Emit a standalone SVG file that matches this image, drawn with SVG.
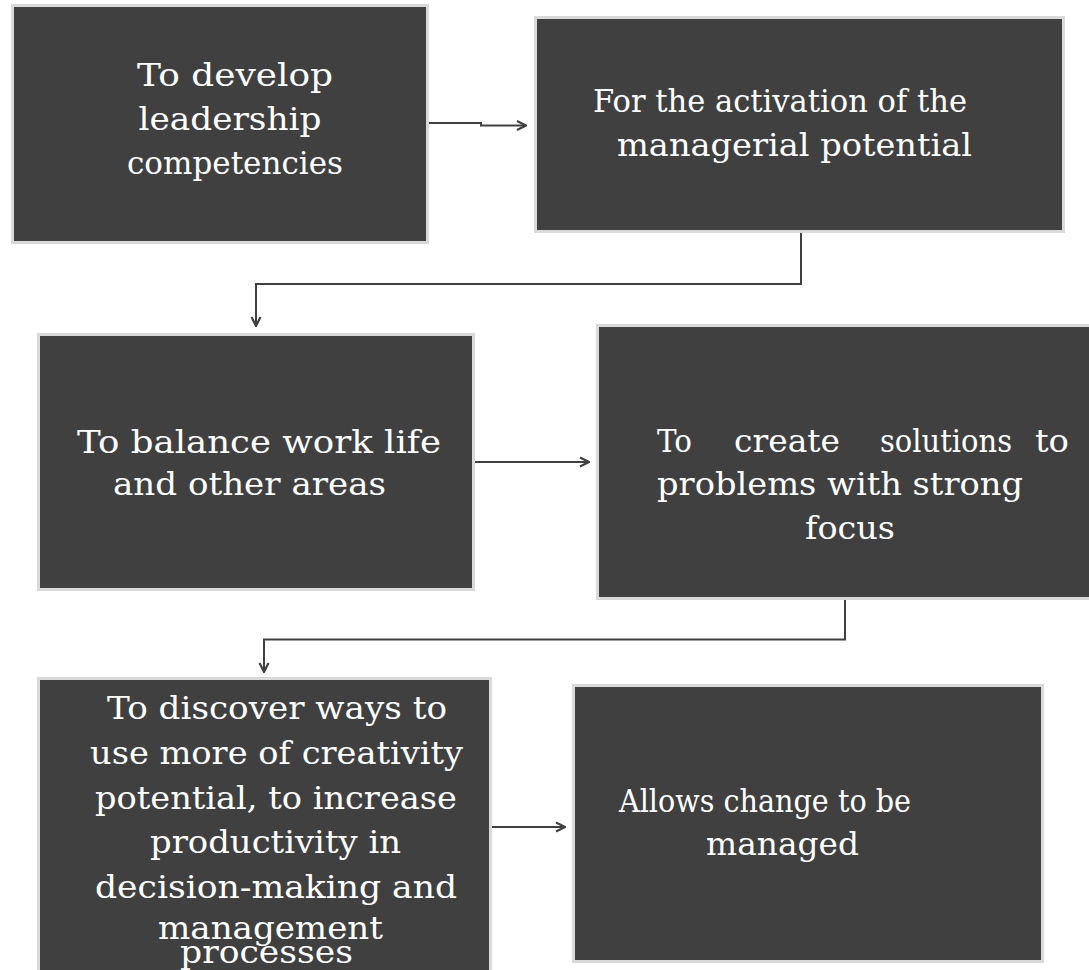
<svg xmlns="http://www.w3.org/2000/svg" width="1089" height="970" viewBox="0 0 1089 970">
<defs>
<style>
.box{fill:#404040;stroke:#d9d9d9;stroke-width:3}
.t{font-family:"DejaVu Serif","Liberation Serif",serif;font-size:31px;fill:#ffffff;text-anchor:middle}
.tl{font-family:"DejaVu Serif","Liberation Serif",serif;font-size:31px;fill:#ffffff}
.c{fill:none;stroke:#404040;stroke-width:2}
</style>
<marker id="arr" viewBox="0 0 12 12" refX="11" refY="6" markerWidth="12" markerHeight="12" markerUnits="userSpaceOnUse" orient="auto">
<path d="M2,1.5 L11,6 L2,10.5" fill="none" stroke="#404040" stroke-width="2.2"/>
</marker>
</defs>
<rect width="1089" height="970" fill="#ffffff"/>
<g id="connectors">
<path class="c" d="M429,123 H481 V125.5 H526" marker-end="url(#arr)"/>
<path class="c" d="M801,233 V284 H256 V326" marker-end="url(#arr)"/>
<path class="c" d="M475,462 H589" marker-end="url(#arr)"/>
<path class="c" d="M845,599 V639.5 H264 V672" marker-end="url(#arr)"/>
<path class="c" d="M492,827 H565" marker-end="url(#arr)"/>
</g>
<g id="n1">
<rect class="box" x="12.5" y="5.5" width="415" height="237"/>
<text class="t" x="235" y="86" textLength="196" lengthAdjust="spacingAndGlyphs">To develop</text>
<text class="t" x="230" y="130" textLength="183" lengthAdjust="spacingAndGlyphs">leadership</text>
<text class="t" x="235" y="174" textLength="216" lengthAdjust="spacingAndGlyphs">competencies</text>
</g>
<g id="n2">
<rect class="box" x="535.5" y="17.5" width="528" height="214"/>
<text class="t" x="780" y="112" textLength="374" lengthAdjust="spacingAndGlyphs">For the activation of the</text>
<text class="t" x="794.5" y="156" textLength="355" lengthAdjust="spacingAndGlyphs">managerial potential</text>
</g>
<g id="n3">
<rect class="box" x="38.5" y="334.5" width="435" height="255"/>
<text class="t" x="259" y="453" textLength="364" lengthAdjust="spacingAndGlyphs">To balance work life</text>
<text class="t" x="249.5" y="495" textLength="273" lengthAdjust="spacingAndGlyphs">and other areas</text>
</g>
<g id="n4">
<rect class="box" x="597.5" y="325.5" width="495" height="273"/>
<text class="tl" x="657" y="452" textLength="35" lengthAdjust="spacingAndGlyphs">To</text>
<text class="tl" x="734" y="452" textLength="106" lengthAdjust="spacingAndGlyphs">create</text>
<text class="tl" x="880" y="452" textLength="132" lengthAdjust="spacingAndGlyphs">solutions</text>
<text class="tl" x="1035" y="452" textLength="34" lengthAdjust="spacingAndGlyphs">to</text>
<text class="tl" x="657" y="495" textLength="366" lengthAdjust="spacingAndGlyphs">problems with strong</text>
<text class="t" x="850" y="539" textLength="90" lengthAdjust="spacingAndGlyphs">focus</text>
</g>
<g id="n5">
<rect class="box" x="38.5" y="678.5" width="452" height="300"/>
<text class="t" x="277" y="719" textLength="340" lengthAdjust="spacingAndGlyphs">To discover ways to</text>
<text class="t" x="276.5" y="764" textLength="373" lengthAdjust="spacingAndGlyphs">use more of creativity</text>
<text class="t" x="276" y="809" textLength="362" lengthAdjust="spacingAndGlyphs">potential, to increase</text>
<text class="t" x="275.5" y="853" textLength="251" lengthAdjust="spacingAndGlyphs">productivity in</text>
<text class="t" x="276" y="898" textLength="362" lengthAdjust="spacingAndGlyphs">decision-making and</text>
<text class="t" x="270.5" y="939" textLength="225" lengthAdjust="spacingAndGlyphs">management</text>
<text class="t" x="266.5" y="963" textLength="173" lengthAdjust="spacingAndGlyphs">processes</text>
</g>
<g id="n6">
<rect class="box" x="573.5" y="685.5" width="469" height="276"/>
<text class="t" x="765" y="812" textLength="292" lengthAdjust="spacingAndGlyphs">Allows change to be</text>
<text class="t" x="782.5" y="855" textLength="153" lengthAdjust="spacingAndGlyphs">managed</text>
</g>
</svg>
